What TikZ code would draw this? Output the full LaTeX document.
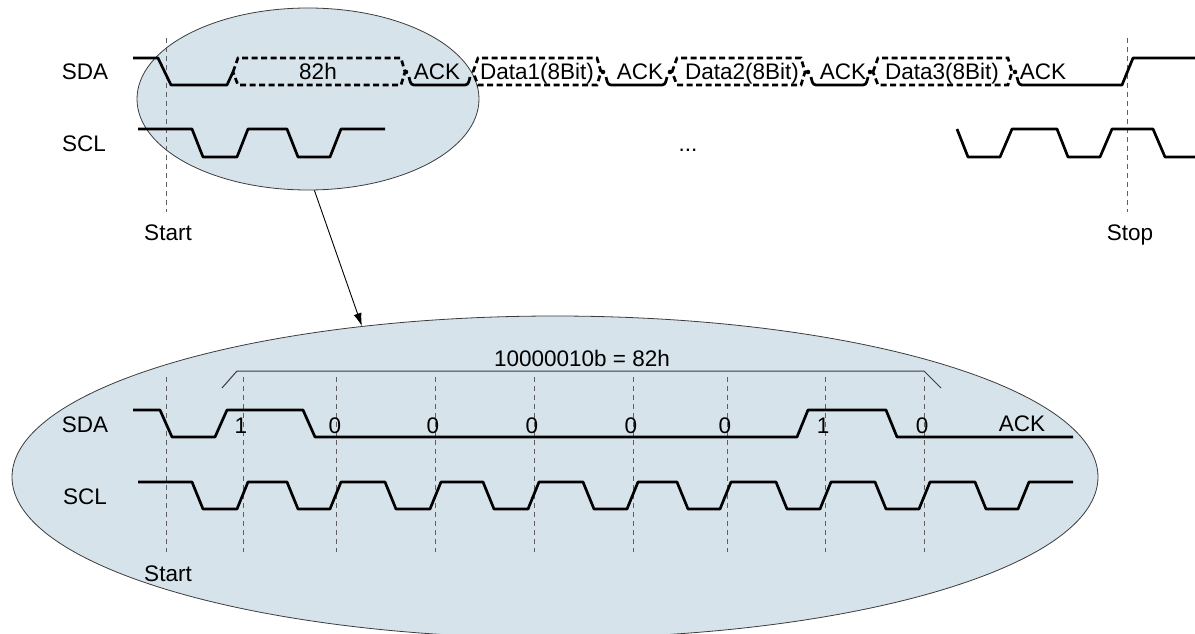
\documentclass[tikz,border=0pt]{standalone}
\usepackage{fontspec}
\setmainfont{Liberation Sans}
\usetikzlibrary{shapes.geometric,arrows.meta}
\definecolor{zoomfill}{RGB}{214,227,235}
\definecolor{guide}{RGB}{95,95,95}
\definecolor{rim}{RGB}{60,60,60}
\begin{document}
\begin{tikzpicture}[x=1pt,y=-1pt,
  sig/.style={line width=2.7pt, line join=round},
  busline/.style={line width=2.7pt, dash pattern=on 6pt off 3.5pt},
  guideline/.style={guide, line width=0.9pt, dash pattern=on 5pt off 4pt},
  lbl/.style={font=\fontsize{22.5}{26}\selectfont, inner sep=0pt, text height=16pt, text depth=0pt},
  zoomell/.style={ellipse, draw=rim, line width=0.8pt, fill=zoomfill, inner sep=0pt},
  bracketline/.style={rim, line width=1pt}]
\useasboundingbox (0,0) rectangle (1195,634);

% ellipses
\node[zoomell, minimum width=342pt, minimum height=182pt] (srcell) at (308,99) {};
\node[zoomell, minimum width=1086pt, minimum height=322pt] (dstell) at (555,477) {};
\draw[-{Latex[length=13pt,width=8pt]}, line width=0.9pt] (srcell.-86) -- (dstell.142.5);

% ---------- top overview ----------
\node[lbl] (sdaT) at (85,72) {SDA};
\node[lbl] (sclT) at (84,143) {SCL};
\node[lbl] (startT) at (168,232) {Start};
\node[lbl] (stopT) at (1130,232) {Stop};
\node[lbl] (dotsT) at (688,143) {...};

\draw[guideline] (166,38) -- (166,212);
\draw[guideline] (1127,38) -- (1127,212);

% SDA top
\draw[sig] (133,58) -- (158,58) -- (171,85) -- (227,85) -- (233,72);
\draw[busline] (233,72) -- (238,58) -- (401,58) -- (405,72) -- (401,85) -- (238,85) -- cycle;
\draw[busline] (473,72) -- (478,58) -- (597,58) -- (601,72) -- (597,85) -- (478,85) -- cycle;
\draw[busline] (672,72) -- (677,58) -- (801,58) -- (805,72) -- (801,85) -- (677,85) -- cycle;
\draw[busline] (873,72) -- (878,58) -- (1008,58) -- (1012,72) -- (1008,85) -- (878,85) -- cycle;
\fill (406,72) circle (2.3);
\fill (603,72) circle (2.3);
\fill (670,72) circle (2.3);
\fill (808,72) circle (2.3);
\fill (870,72) circle (2.3);
\fill (1015,72) circle (2.3);
\draw[sig] (409,77) to[out=-75,in=180] (414,85) -- (465,85) to[out=0,in=-105] (470,77);
\draw[sig] (606,77) to[out=-75,in=180] (611,85) -- (662,85) to[out=0,in=-105] (667,77);
\draw[sig] (811,77) to[out=-75,in=180] (816,85) -- (863,85) to[out=0,in=-105] (868,77);
\draw[sig] (1017,77) to[out=-75,in=180] (1022,85) -- (1122,85) -- (1133,58) -- (1195,58);
\node[lbl] (hexT) at (318,72) {82h};
\node[lbl] (ack1) at (437,72) {ACK};
\node[lbl] (d1) at (537,72) {Data1(8Bit)};
\node[lbl] (ack2) at (640,72) {ACK};
\node[lbl] (d2) at (742,72) {Data2(8Bit)};
\node[lbl] (ack3) at (843,72) {ACK};
\node[lbl] (d3) at (942,72) {Data3(8Bit)};
\node[lbl] (ack4) at (1043,72) {ACK};

% SCL top
\draw[sig] (138,129) -- (192,129) -- (203,157) -- (237,157) -- (248,129) -- (287,129) -- (298,157) -- (330,157) -- (341,129) -- (385,129);
\draw[sig] (957,129) -- (968,157) -- (1000,157) -- (1012,129) -- (1057,129) -- (1068,157) -- (1100,157) -- (1112,129) -- (1153,129) -- (1165,157) -- (1195,157);

% ---------- zoomed detail ----------
\node[lbl] (sdaB) at (85,424) {SDA};
\node[lbl] (sclB) at (85,496) {SCL};
\node[lbl] (startB) at (168,573) {Start};

\foreach \gx in {166,243,336,435,534,633,727,825,924}
  \draw[guideline] (\gx,377) -- (\gx,552);

\draw[bracketline] (222,388) -- (237,371) -- (924,371) -- (941,388);
\node[lbl] (bytelbl) at (582,358) {10000010b = 82h};

\draw[sig] (133,410) -- (160,410) -- (172,437) -- (215,437) -- (227,410) -- (303,410) -- (315,437) -- (797,437) -- (808,410) -- (886,410) -- (897,437) -- (1073,437);

\draw[sig] (138,482) -- (192,482) -- (203,509) -- (237,509) -- (248,482) -- (287,482) -- (298,509) -- (330,509) -- (341,482) -- (385,482) -- (396,509) -- (430,509) -- (441,482) -- (483,482) -- (494,509) -- (528,509) -- (539,482) -- (583,482) -- (594,509) -- (627,509) -- (638,482) -- (677,482) -- (688,509) -- (720,509) -- (731,482) -- (776,482) -- (787,509) -- (820,509) -- (831,482) -- (875,482) -- (886,509) -- (919,509) -- (930,482) -- (975,482) -- (986,509) -- (1018,509) -- (1029,482) -- (1073,482);

\node[lbl] (b1) at (241,425) {1};
\node[lbl] (b2) at (335,425) {0};
\node[lbl] (b3) at (433,425) {0};
\node[lbl] (b4) at (532,425) {0};
\node[lbl] (b5) at (631,425) {0};
\node[lbl] (b6) at (725,425) {0};
\node[lbl] (b7) at (823,425) {1};
\node[lbl] (b8) at (922,425) {0};
\node[lbl] (ackB) at (1022,423) {ACK};
\end{tikzpicture}
\end{document}
